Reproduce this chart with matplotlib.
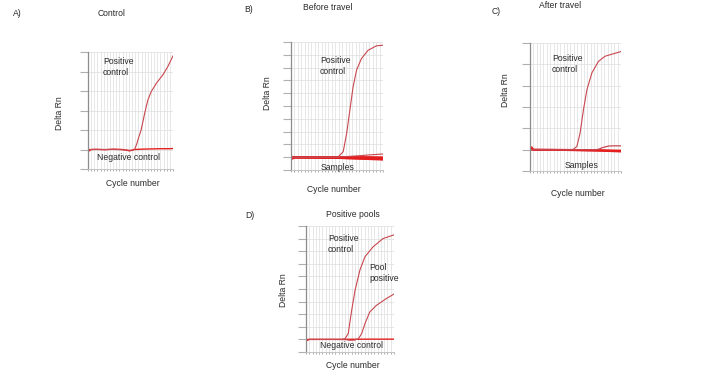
import numpy as np
import matplotlib
matplotlib.use("Agg")
import matplotlib.pyplot as plt

plt.rcParams['font.family'] = ['Liberation Sans', 'DejaVu Sans']

FIG_W, FIG_H = 709, 370

# A) Control
A_pos_x = [0, 4, 8, 12, 16, 18, 20, 21, 22, 23, 23.5, 25, 26.7, 28.2, 29.8, 32.2, 35.3, 37.6, 40]
A_pos_y = [1.0, 1.0, 1.0, 1.0, 0.99, 0.97, 0.96, 0.97, 1.02, 1.3, 1.5, 2.0, 2.87, 3.55, 3.98, 4.4, 4.84, 5.26, 5.8]
A_neg_x = [0, 0.6, 1.5, 4, 8, 12, 16, 18, 19.5, 21, 22, 26, 30, 34, 38, 40]
A_neg_y = [1.1, 0.93, 1.0, 1.01, 0.99, 1.02, 1.0, 0.97, 0.93, 0.97, 1.0, 1.02, 1.03, 1.04, 1.04, 1.05]

# B) Before travel
B_pos_x = [0, 10, 19, 20.6, 22.7, 24.2, 25.6, 27, 28.5, 30.6, 33.5, 37.1, 40]
B_pos_y = [1.0, 1.0, 1.0, 1.05, 1.43, 2.86, 4.68, 6.5, 7.8, 8.7, 9.35, 9.7, 9.75]
B_samples_x = [0, 0.6, 1.5, 10, 20, 30, 40]
B_samples_y = [
    [1.1, 0.9, 1.0, 1.0, 1.0, 1.0, 0.98],
    [1.05, 0.92, 1.0, 0.99, 0.97, 0.94, 0.9],
    [1.08, 0.95, 1.0, 0.99, 0.96, 0.91, 0.86],
    [1.0, 0.94, 1.0, 0.98, 0.95, 0.89, 0.82],
    [1.02, 0.96, 1.0, 1.0, 0.98, 0.96, 0.93],
]
B_rise_x = [0, 10, 20, 25, 30, 35, 40]
B_rise_y = [1.0, 1.0, 1.01, 1.06, 1.12, 1.19, 1.25]

# C) After travel
C_pos_x = [0, 10, 18, 19.1, 20.6, 22, 23.5, 25, 27.2, 30.1, 33, 36.8, 40]
C_pos_y = [1.0, 1.0, 1.0, 1.02, 1.15, 1.77, 2.87, 3.8, 4.6, 5.14, 5.38, 5.5, 5.6]
C_samples_x = [0, 0.7, 1.5, 10, 20, 30, 40]
C_samples_y = [
    [1.0, 1.12, 1.0, 1.0, 0.99, 0.98, 0.96],
    [1.0, 1.05, 1.0, 0.99, 0.98, 0.96, 0.93],
    [1.0, 1.0, 0.99, 0.99, 0.97, 0.95, 0.91],
]
C_rise_x = [0, 10, 20, 29, 30.1, 32, 34.5, 37, 40]
C_rise_y = [1.0, 1.0, 1.0, 1.0, 1.02, 1.1, 1.17, 1.18, 1.18]

# D) Positive pools
D_pos_x = [0, 10, 16.5, 17.7, 19.2, 20.75, 22.3, 24.5, 26.8, 30.5, 35, 40]
D_pos_y = [1.0, 1.0, 1.0, 1.05, 1.46, 3.3, 4.9, 6.5, 7.56, 8.35, 9.0, 9.3]
D_pool_x = [0, 10, 18, 20, 22, 23.8, 25.3, 26.8, 29, 32, 36.5, 40]
D_pool_y = [1.0, 1.0, 0.98, 0.93, 0.94, 1.05, 1.46, 2.25, 3.18, 3.7, 4.24, 4.6]
D_neg_x = [0, 0.6, 1.5, 10, 20, 30, 40]
D_neg_y = [1.1, 0.92, 1.0, 1.0, 1.01, 1.02, 1.02]

POS_COLOR = '#c9474f'
BASE_COLOR = '#e41e1e'
TEXT_COLOR = '#2a2a2a'
GRID_COLOR = '#e0e0e0'


def fx(px):
    return px / FIG_W


def fy(py):
    return 1 - py / FIG_H


def make_axes(fig, left, top, right, bottom, ymax):
    ax = fig.add_axes([fx(left), fy(bottom), (right - left) / FIG_W, (bottom - top) / FIG_H])
    ax.set_xlim(0, 40)
    ax.set_ylim(0, ymax)
    ax.set_xticks(np.linspace(0, 40, 28))
    ax.set_yticks(np.arange(0, ymax + 0.5, 1))
    ax.grid(True, color=GRID_COLOR, linewidth=0.55)
    ax.set_axisbelow(True)
    ax.tick_params(axis='y', length=6, width=0.8, color='#b0b0b0', labelleft=False)
    ax.tick_params(axis='x', length=1.5, width=0.6, color='#a0a0a0', labelbottom=False)
    for side in ['top', 'right']:
        ax.spines[side].set_visible(False)
    ax.spines['left'].set_color('#8c8c8c')
    ax.spines['bottom'].set_color('#c4c4c4')
    ax.spines['left'].set_linewidth(0.9)
    ax.spines['bottom'].set_linewidth(0.7)
    return ax


def label(fig, x, y, s, ha='left', rotation=0, size=6.2):
    fig.text(fx(x), fy(y), s, ha=ha, va='center', rotation=rotation,
             fontsize=size, color=TEXT_COLOR, linespacing=1.25)


fig = plt.figure(figsize=(7.09, 3.70), dpi=100)

# panel A
ax = make_axes(fig, 88, 52, 173, 169, 6)
ax.plot(A_neg_x, A_neg_y, color=BASE_COLOR, lw=1.0)
ax.plot(A_pos_x, A_pos_y, color=POS_COLOR, lw=0.8)
label(fig, 13, 13, 'A)')
label(fig, 98, 13, 'Control')
label(fig, 60, 113, 'Delta Rn', ha='center', rotation=90)
label(fig, 133, 184, 'Cycle number', ha='center')
label(fig, 103, 67, 'Positive\ncontrol')
label(fig, 97, 157, 'Negative control')

# panel B
ax = make_axes(fig, 291, 42, 383, 170, 10)
for ys in B_samples_y:
    ax.plot(B_samples_x, ys, color=BASE_COLOR, lw=1.6)
ax.plot(B_rise_x, B_rise_y, color=POS_COLOR, lw=0.8)
ax.plot(B_pos_x, B_pos_y, color=POS_COLOR, lw=0.8)
label(fig, 244, 10, 'B)')
label(fig, 303, 8, 'Before travel')
label(fig, 268, 93, 'Delta Rn', ha='center', rotation=90)
label(fig, 334, 190, 'Cycle number', ha='center')
label(fig, 320, 66, 'Positive\ncontrol')
label(fig, 321, 167, 'Samples')

# panel C
ax = make_axes(fig, 530, 43, 621, 171, 6)
for ys in C_samples_y:
    ax.plot(C_samples_x, ys, color=BASE_COLOR, lw=1.3)
ax.plot(C_rise_x, C_rise_y, color=POS_COLOR, lw=0.9)
ax.plot(C_pos_x, C_pos_y, color=POS_COLOR, lw=0.8)
label(fig, 492, 11, 'C)')
label(fig, 539, 5, 'After travel')
label(fig, 506, 90, 'Delta Rn', ha='center', rotation=90)
label(fig, 578, 193, 'Cycle number', ha='center')
label(fig, 552, 64, 'Positive\ncontrol')
label(fig, 565, 165, 'Samples')

# panel D
ax = make_axes(fig, 306, 226, 394, 352, 10)
ax.plot(D_neg_x, D_neg_y, color=BASE_COLOR, lw=1.0)
ax.plot(D_pool_x, D_pool_y, color=POS_COLOR, lw=0.8)
ax.plot(D_pos_x, D_pos_y, color=POS_COLOR, lw=0.8)
label(fig, 245, 216, 'D)')
label(fig, 326, 215, 'Positive pools')
label(fig, 283, 290, 'Delta Rn', ha='center', rotation=90)
label(fig, 353, 365, 'Cycle number', ha='center')
label(fig, 328, 244, 'Positive\ncontrol')
label(fig, 369, 273, 'Pool\npositive')
label(fig, 320, 346, 'Negative control')

fig.savefig('out.png', dpi=100, facecolor='white')
